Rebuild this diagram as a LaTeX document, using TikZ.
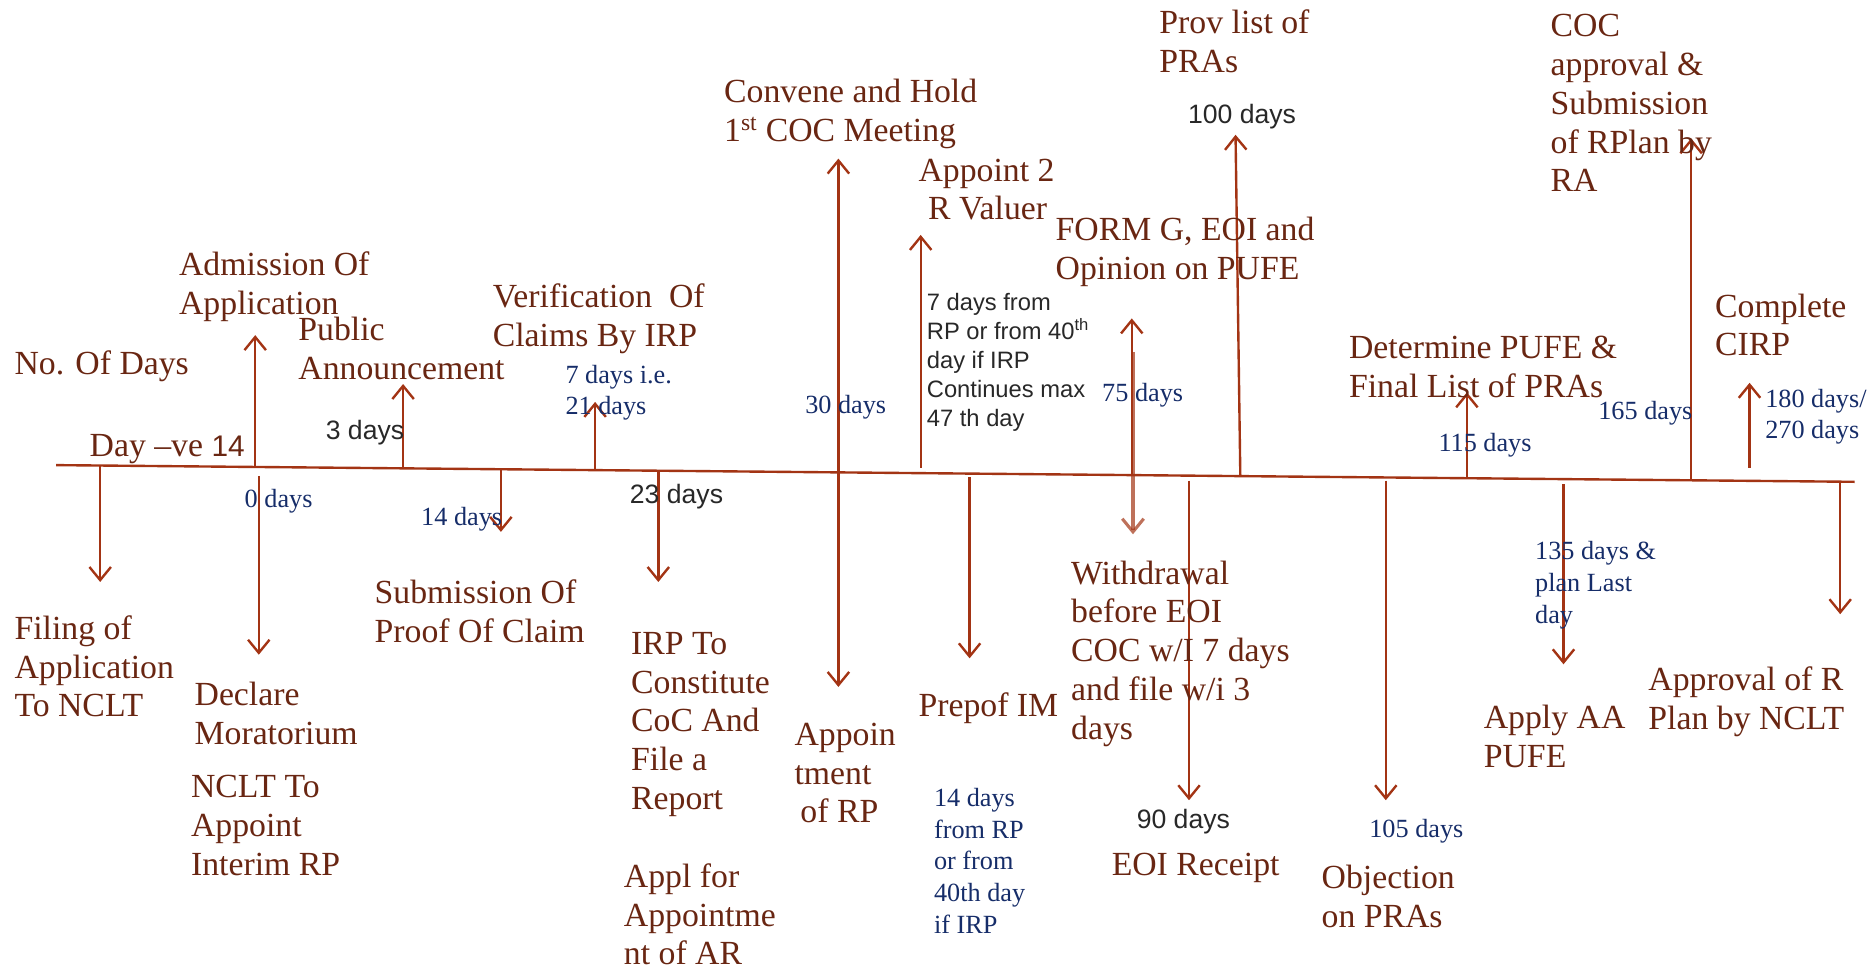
\documentclass[tikz,border=0pt]{standalone}
\usepackage{fontspec}
\setmainfont{Liberation Serif}
\setsansfont{Liberation Sans}
\usetikzlibrary{arrows.meta}
\definecolor{arr}{RGB}{163,52,20}
\definecolor{brn}{RGB}{105,38,18}
\definecolor{blu}{RGB}{22,45,105}
\definecolor{gry}{RGB}{40,40,40}
\tikzset{
  ev/.style={text=brn, font=\fontsize{28.3}{32.5}\selectfont, align=left, anchor=north west, inner sep=0pt},
  dy/.style={text=blu, font=\fontsize{22}{26.5}\selectfont, align=left, anchor=north west, inner sep=0pt},
  gy/.style={text=gry, font=\sffamily\fontsize{22.3}{24}\selectfont, align=left, anchor=north west, inner sep=0pt},
  gys/.style={text=gry, font=\sffamily\fontsize{19.9}{24.2}\selectfont, align=left, anchor=north west, inner sep=0pt},
  ar/.style={draw=arr, line width=2pt, -{Straight Barb[length=11pt,width=18pt]}},
  arr2/.style={draw=arr, line width=2pt, {Straight Barb[length=11pt,width=18pt]}-{Straight Barb[length=11pt,width=18pt]}},
  tline/.style={draw=arr, line width=2pt}
}
\begin{document}
\begin{tikzpicture}[x=1pt,y=-1pt]
\useasboundingbox (0,0) rectangle (1568,813);
% timeline
\coordinate (tl0) at (47,390);
\coordinate (tl1) at (1555,404);
\draw[tline] (tl0) -- (tl1);
% arrows
\coordinate (a1s) at (84,390);   \coordinate (a1e) at (84,488);
\coordinate (a2s) at (214,391);  \coordinate (a2e) at (214,281);
\coordinate (a3s) at (217,399);  \coordinate (a3e) at (217,549);
\coordinate (a4s) at (338,393);  \coordinate (a4e) at (338,322);
\coordinate (a5s) at (420,393);  \coordinate (a5e) at (420,446);
\coordinate (a6s) at (499,394);  \coordinate (a6e) at (499,337);
\coordinate (a7s) at (552,394);  \coordinate (a7e) at (552,488);
\coordinate (a8s) at (703,576);  \coordinate (a8e) at (703,133);
\coordinate (a9s) at (772,392);  \coordinate (a9e) at (772,197);
\coordinate (a10s) at (813,400); \coordinate (a10e) at (813,552);
\coordinate (a11s) at (949,398); \coordinate (a11e) at (949,267);
\coordinate (a12s) at (950,295); \coordinate (a12e) at (950,448);
\coordinate (a13s) at (997,403); \coordinate (a13e) at (997,671);
\coordinate (a14s) at (1040,399);\coordinate (a14e) at (1036,113);
\coordinate (a15s) at (1162,403);\coordinate (a15e) at (1162,671);
\coordinate (a16s) at (1230,401);\coordinate (a16e) at (1230,329);
\coordinate (a17s) at (1311,406);\coordinate (a17e) at (1311,557);
\coordinate (a18s) at (1418,403);\coordinate (a18e) at (1418,116);
\coordinate (a19s) at (1467,392);\coordinate (a19e) at (1467,321);
\coordinate (a20s) at (1543,405);\coordinate (a20e) at (1543,515);
\foreach \i in {1,2,3,4,5,6,7,9,10,11,13,14,15,16,17,18,19,20}
  \draw[ar] (a\i s) -- (a\i e);
\draw[arr2] (a8s) -- (a8e);
\draw[ar, opacity=0.7, line width=2.6pt] (a12s) -- (a12e);
% brown event texts
\node[ev] (nodays) at (12,294) {No. Of Days};
\node[ev] (admission) at (150,211) {Admission Of\\Application};
\node[ev] (public) at (250,266) {Public\\Announcement};
\node[ev] (verif) at (413,238) {Verification\ \ Of\\Claims By IRP};
\node[ev] (dayneg) at (75,364) {Day –ve {\sffamily\fontsize{25}{30}\selectfont 14}};
\node[ev] (convene) at (607,66) {Convene and Hold\\1\textsuperscript{st} COC Meeting};
\node[ev] (appoint2) at (770,133) {Appoint 2\\\hspace{8pt}R Valuer};
\node[ev] (formg) at (885,182) {FORM G, EOI and\\Opinion on PUFE};
\node[ev] (provlist) at (972,8) {Prov list of\\PRAs};
\node[ev] (cocapp) at (1300,12) {COC\\approval \&\\Submission\\of RPlan by\\RA};
\node[ev] (determine) at (1131,282) {Determine PUFE \&\\Final List of PRAs};
\node[ev] (complete) at (1438,246) {Complete\\CIRP};
\node[ev] (filing) at (12,516) {Filing of\\Application\\To NCLT};
\node[ev] (declare) at (163,572) {Declare\\Moratorium};
\node[ev] (nclt) at (160,650) {NCLT To\\Appoint\\Interim RP};
\node[ev] (submission) at (314,486) {Submission Of\\Proof Of Claim};
\node[ev] (irp) at (529,530) {IRP To\\Constitute\\CoC And\\File a\\Report};
\node[ev] (appl) at (523,724) {Appl for\\Appointme\\nt of AR};
\node[ev] (appoin) at (666,606) {Appoin\\tment\\\hspace{5pt}of RP};
\node[ev] (prepof) at (770,581) {Prepof IM};
\node[ev] (withdrawal) at (898,470) {Withdrawal\\before EOI\\COC w/I 7 days\\and file w/i 3\\days};
\node[ev] (eoi) at (932,715) {EOI Receipt};
\node[ev] (objection) at (1108,725) {Objection\\on PRAs};
\node[ev] (applyaa) at (1244,591) {Apply AA\\PUFE};
\node[ev] (approval) at (1382,559) {Approval of R\\Plan by NCLT};
% blue day labels
\node[dy] (d7) at (474,306) {7 days i.e.\\21 days};
\node[dy] (d0) at (205,410) {0 days};
\node[dy] (d14) at (353,425) {14 days};
\node[dy] (d30) at (675,331) {30 days};
\node[dy] (d75) at (924,321) {75 days};
\node[dy] (d115) at (1206,363) {115 days};
\node[dy] (d165) at (1340,336) {165 days};
\node[dy] (d180) at (1480,326) {180 days/\\270 days};
\node[dy] (d14from) at (783,661) {14 days\\from RP\\or from\\40th day\\if IRP};
\node[dy] (d105) at (1148,687) {105 days};
\node[dy] (d135) at (1287,454) {135 days \&\\plan Last\\day};
% gray labels
\node[gy] (d3) at (273,352) {3 days};
\node[gy] (d23) at (528,406) {23 days};
\node[gy] (d100) at (996,87) {100 days};
\node[gy] (d90) at (953,678) {90 days};
\node[gys] (d7from) at (777,246) {7 days from\\RP or from 40\textsuperscript{th}\\day if IRP\\Continues max\\47 th day};
\end{tikzpicture}
\end{document}
